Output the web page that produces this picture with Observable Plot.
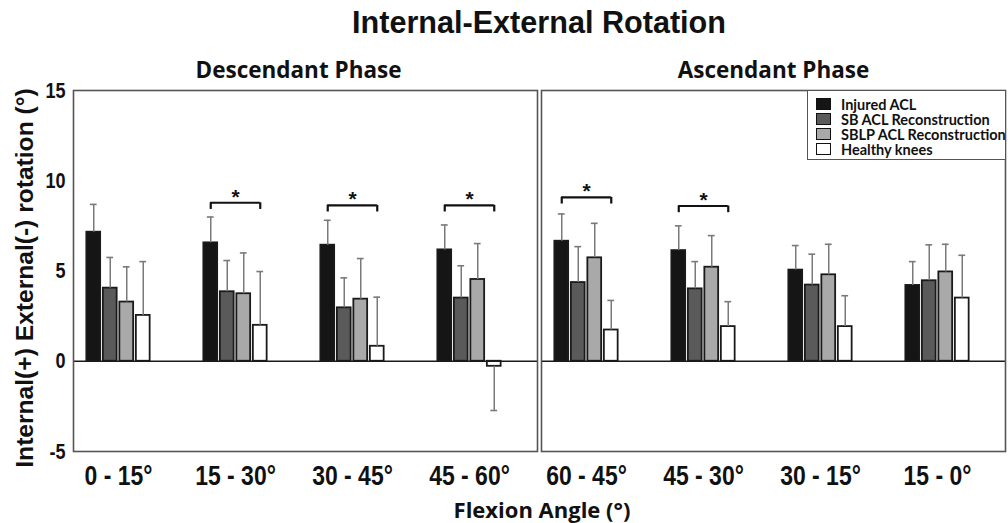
<!DOCTYPE html>
<html><head><meta charset="utf-8">
<script src="https://cdn.jsdelivr.net/npm/d3@7"></script>
<script src="https://cdn.jsdelivr.net/npm/@observablehq/plot@0.6"></script>
<style>
body{margin:0;background:#fff}
#root{position:relative;width:1008px;height:523px;overflow:hidden;background:#fff}
.abs{position:absolute;white-space:nowrap;line-height:1;color:#111}
.cal{font-family:"Open Sans",Lato,sans-serif;font-weight:700}
.lat{font-family:Lato,"Open Sans",sans-serif;font-weight:700}
.ari{font-family:"Liberation Sans",Arial,sans-serif;font-weight:700}
.lg-item{position:absolute;left:8px;height:15px;line-height:15px;font-size:14.5px;white-space:nowrap}
.sw{position:absolute;left:0;top:1px;width:15px;height:12px;box-sizing:border-box;border:1.6px solid #111}
.lg-item span{position:absolute;left:25px;top:0;white-space:nowrap}
</style></head><body>
<div id="root"></div>
<script>
// ---- data ----
const series = ["Injured ACL", "SB ACL Reconstruction", "SBLP ACL Reconstruction", "Healthy knees"];
const phases = ["Descendant Phase", "Ascendant Phase"];
const descGroups = ["0 - 15°", "15 - 30°", "30 - 45°", "45 - 60°"];
const ascGroups = ["60 - 45°", "45 - 30°", "30 - 15°", "15 - 0°"];
const injuredMean = [7.15, 6.56, 6.43, 6.17, 6.65, 6.13, 5.05, 4.20];
const sbMean      = [4.05, 3.85, 2.96, 3.50, 4.36, 4.01, 4.22, 4.46];
const sblpMean    = [3.28, 3.74, 3.44, 4.53, 5.73, 5.21, 4.79, 4.95];
const healthyMean = [2.54, 1.99, 0.83, -0.28, 1.73, 1.92, 1.92, 3.50];
const injuredSD   = [1.54, 1.43, 1.38, 1.38, 1.51, 1.37, 1.36, 1.32];
const sbSD        = [1.70, 1.73, 1.66, 1.79, 1.99, 1.51, 1.71, 1.99];
const sblpSD      = [1.95, 2.26, 2.25, 1.99, 1.91, 1.75, 1.69, 1.53];
const healthySD   = [2.98, 2.98, 2.72, 2.45, 1.64, 1.38, 1.71, 2.37];
const yTicks = [-5, 0, 5, 10, 15];
const sigGroups = ["15 - 30°", "30 - 45°", "45 - 60°", "60 - 45°", "45 - 30°"];
const sigLevels = [8.78, 8.64, 8.64, 9.08, 8.60];
const colors = ["#151515", "#5a5a5a", "#a9a9a9", "#ffffff"];

// ---- tables ----
const groups = descGroups.concat(ascGroups);
const slots = [0, 1, 2, 3];
const groupRows = groups.map((g, gi) => ({phase: phases[gi < 4 ? 0 : 1], slot: gi % 4, group: g}));
const means = [injuredMean, sbMean, sblpMean, healthyMean];
const sds = [injuredSD, sbSD, sblpSD, healthySD];
const rows = [];
groupRows.forEach((gr, gi) => series.forEach((s, si) => {
  const m = means[si][gi], sd = sds[si][gi];
  rows.push({...gr, series: s, si, mean: m, end: m + Math.sign(m) * sd});
}));
const sigRows = sigGroups.map((g, i) => ({...groupRows.find(r => r.group === g), y: sigLevels[i]}));
const drop = 0.37;

// layout of the bars inside a group band (pixels)
const barStep = 16.5, barW = 13.7, groupBW = 65.9, lead = (groupBW - 4 * barStep + (barStep - barW)) / 2;

const arial = "'Liberation Sans', Arial, sans-serif";
const opensans = "'Open Sans', Lato, sans-serif";

// horizontally condensed text (the reference uses a narrow bold face)
function condense(k) {
  return (index, scales, values, dimensions, context, next) => {
    const g = next(index, scales, values, dimensions, context);
    if (g) g.querySelectorAll("text").forEach(t => {
      const tr = t.getAttribute("transform") || "";
      if (t.hasAttribute("x")) t.setAttribute("x", +t.getAttribute("x") / k);
      t.setAttribute("transform", tr + ` scale(${k},1)`);
    });
    return g;
  };
}

const phaseTitle = (p, dx) => Plot.text([p], {fx: d => d, text: d => d, frameAnchor: "top", lineAnchor: "bottom", dy: -13, dx, fontSize: 22.5, fontWeight: "bold", fontFamily: opensans, fill: "#111"});

const marks = [
  Plot.text(yTicks, {fx: () => phases[0], y: d => d, text: d => String(d), frameAnchor: "left", textAnchor: "end", dx: -8, fontSize: 22, fontWeight: "bold", fontFamily: arial, fill: "#111", render: condense(0.82)}),
  phaseTitle(phases[0], -7),
  phaseTitle(phases[1], 0),
  Plot.text(groupRows, {fx: "phase", x: "slot", text: "group", frameAnchor: "bottom", lineAnchor: "top", dy: 14, fontSize: 28, fontWeight: "bold", fontFamily: arial, fill: "#111", render: condense(0.82)})
];
series.forEach((s, si) => {
  const d = rows.filter(r => r.si === si);
  const left = lead + si * barStep;
  const right = groupBW - left - barW;
  const off = left + barW / 2 - groupBW / 2;
  marks.push(
    Plot.barY(d, {fx: "phase", x: "slot", y: "mean", fill: "series", stroke: "#1a1a1a", strokeWidth: 1.8, insetLeft: left, insetRight: right}),
    Plot.ruleX(d, {fx: "phase", x: "slot", y1: "mean", y2: "end", dx: off, stroke: "#7a7a7a", strokeWidth: 1.5}),
    Plot.tickY(d, {fx: "phase", x: "slot", y: "end", stroke: "#7a7a7a", strokeWidth: 1.6, insetLeft: left + 3.5, insetRight: right + 3.5})
  );
});
const edge = lead + barW / 2;
marks.push(
  Plot.ruleY([0], {stroke: "#1a1a1a", strokeWidth: 1.6}),
  Plot.ruleY(sigRows, {fx: "phase", x1: "slot", x2: "slot", y: "y", insetLeft: edge, insetRight: edge, stroke: "#111", strokeWidth: 2.2}),
  Plot.ruleX(sigRows, {fx: "phase", x: "slot", y1: "y", y2: d => d.y - drop, dx: edge - groupBW / 2, stroke: "#111", strokeWidth: 2.2}),
  Plot.ruleX(sigRows, {fx: "phase", x: "slot", y1: "y", y2: d => d.y - drop, dx: groupBW / 2 - edge, stroke: "#111", strokeWidth: 2.2}),
  Plot.text(sigRows, {fx: "phase", x: "slot", y: "y", text: () => "*", dy: -6, fontSize: 21, fontWeight: "bold", fontFamily: arial, fill: "#111"}),
  Plot.frame({stroke: "#555", strokeWidth: 1.6})
);

const chart = Plot.plot({
  width: 1008, height: 523,
  marginLeft: 73, marginRight: 2, marginTop: 90, marginBottom: 72,
  style: {background: "transparent", overflow: "visible", color: "#111"},
  fx: {domain: phases, paddingInner: 0.0085, paddingOuter: 0, axis: null, label: null},
  x: {domain: slots, paddingInner: 0.439, paddingOuter: 0.196, align: 0.245, axis: null},
  y: {domain: [-5, 15], axis: null},
  color: {domain: series, range: colors},
  marks
});

const root = document.getElementById("root");
const wrap = document.createElement("div");
Object.assign(wrap.style, {position: "absolute", left: "0px", top: "0px"});
wrap.appendChild(chart);
root.appendChild(wrap);

function label(text, cls, css) {
  const d = document.createElement("div");
  d.className = "abs " + cls;
  d.textContent = text;
  Object.assign(d.style, css);
  root.appendChild(d);
  return d;
}
label("Internal-External Rotation", "ari", {fontSize: "30.6px", left: "539px", top: "7.2px", transform: "translateX(-50%)"});
label("Flexion Angle (°)", "cal", {fontSize: "22px", left: "542px", top: "498px", transform: "translateX(-50%)"});
label("Internal(+) External(-) rotation (°)", "ari", {fontSize: "24.6px", left: "25px", top: "278px", transform: "translate(-50%,-50%) rotate(-90deg)"});

// legend
const lg = document.createElement("div");
Object.assign(lg.style, {position: "absolute", left: "807px", top: "90px", width: "199px", height: "70px", boxSizing: "border-box", border: "1.6px solid #555", background: "#fff", overflow: "hidden"});
series.forEach((s, i) => {
  const it = document.createElement("div");
  it.className = "lg-item lat";
  it.style.top = (6 + i * 15) + "px";
  const sw = document.createElement("div");
  sw.className = "sw";
  sw.style.background = colors[i];
  const tx = document.createElement("span");
  tx.textContent = s;
  tx.style.color = "#111";
  it.appendChild(sw); it.appendChild(tx);
  lg.appendChild(it);
});
root.appendChild(lg);
</script>
</body></html>
